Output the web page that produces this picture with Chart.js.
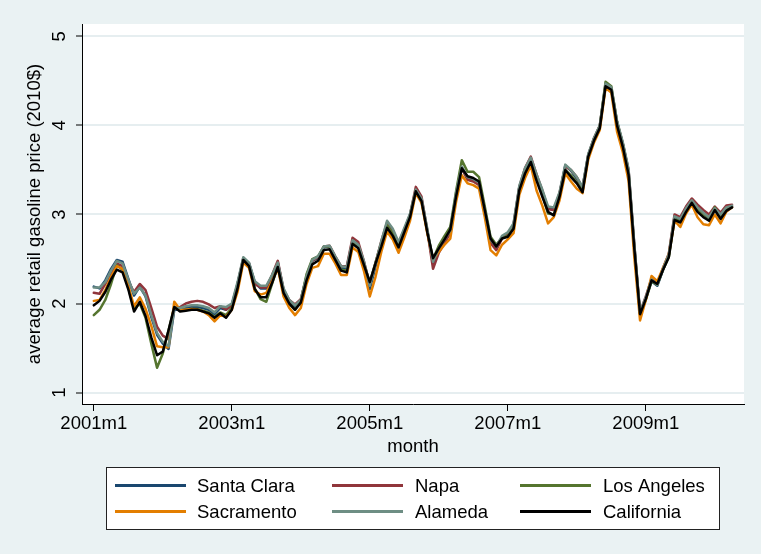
<!DOCTYPE html>
<html>
<head>
<meta charset="utf-8">
<script src="https://cdn.jsdelivr.net/npm/chart.js@4.4.1/dist/chart.umd.min.js"></script>
<style>
  html, body { margin: 0; padding: 0; background: #eaf2f3; }
  #wrap { width: 761px; height: 554px; position: relative; }
  canvas { display: block; }
</style>
</head>
<body>
<div id="wrap"><canvas id="chart" width="761" height="554"></canvas></div>
<script>
// Monthly categories, 2001m1 .. 2010m4
const months = [];
for (let i = 0; i < 112; i++) {
  months.push((2001 + Math.floor(i / 12)) + 'm' + (i % 12 + 1));
}
const xTickLabels = ['2001m1', '2003m1', '2005m1', '2007m1', '2009m1'];
const yTickValues = [1, 2, 3, 4, 5];

// Average retail gasoline price, 2010 dollars
const santaClara = [
  2.19, 2.17, 2.26, 2.39, 2.49, 2.47, 2.28, 2.09, 2.19, 2.08, 1.85, 1.65, 1.55, 1.49, 1.93,
  1.93, 1.95, 1.96, 1.96, 1.95, 1.93, 1.88, 1.95, 1.93,
  1.98, 2.22, 2.50, 2.45, 2.24, 2.17, 2.17, 2.30, 2.46, 2.15, 2.02, 1.96, 2.02, 2.29, 2.48, 2.51, 2.63, 2.64, 2.52, 2.40, 2.39, 2.70, 2.65, 2.45, 2.16,
  2.42, 2.67, 2.90, 2.82, 2.67, 2.83, 2.99, 3.27, 3.17, 2.82, 2.45,
  2.60, 2.70, 2.80, 3.22, 3.52, 3.40, 3.38, 3.34, 3.03, 2.70, 2.62, 2.74, 2.78,
  2.88, 3.30, 3.50, 3.62, 3.43, 3.26, 3.07, 3.06, 3.23, 3.55, 3.49, 3.40, 3.30,
  3.67, 3.85, 3.99, 4.45, 4.41, 4.03, 3.79, 3.49, 2.65, 1.89,
  2.06, 2.25, 2.20, 2.38, 2.54, 2.97, 2.94, 3.06, 3.16, 3.07, 3.01, 2.96, 3.07, 2.99, 3.07, 3.09
];
const napa = [
  2.12, 2.11, 2.22, 2.35, 2.45, 2.42, 2.25, 2.13, 2.22, 2.15, 1.95, 1.74, 1.64, 1.60, 1.95,
  1.96, 2.00, 2.02, 2.03, 2.02, 1.99, 1.95, 1.97, 1.93,
  1.98, 2.22, 2.51, 2.45, 2.22, 2.18, 2.18, 2.32, 2.48, 2.16, 2.04, 1.99, 2.05, 2.30, 2.48, 2.52, 2.64, 2.65, 2.53, 2.42, 2.42, 2.74, 2.69, 2.47, 2.22,
  2.46, 2.70, 2.91, 2.82, 2.68, 2.83, 3.00, 3.31, 3.20, 2.82, 2.39,
  2.57, 2.68, 2.79, 3.21, 3.52, 3.39, 3.37, 3.33, 3.02, 2.68, 2.60, 2.73, 2.78,
  2.89, 3.31, 3.52, 3.65, 3.45, 3.27, 3.06, 3.05, 3.24, 3.54, 3.50, 3.42, 3.30,
  3.67, 3.86, 4.00, 4.46, 4.42, 4.04, 3.80, 3.50, 2.66, 1.90,
  2.08, 2.28, 2.22, 2.40, 2.56, 3.00, 2.97, 3.09, 3.18, 3.11, 3.05, 3.00, 3.09, 3.02, 3.10, 3.11
];
const losAngeles = [
  1.87, 1.93, 2.04, 2.22, 2.43, 2.38, 2.18, 1.94, 2.00, 1.84, 1.55, 1.28, 1.44, 1.70, 1.96,
  1.92, 1.93, 1.94, 1.94, 1.92, 1.90, 1.85, 1.90, 1.87,
  1.95, 2.18, 2.50, 2.43, 2.17, 2.05, 2.02, 2.22, 2.42, 2.12, 2.00, 1.93, 2.03, 2.33, 2.50, 2.53, 2.64, 2.64, 2.50, 2.38, 2.37, 2.68, 2.64, 2.44, 2.24,
  2.46, 2.68, 2.88, 2.79, 2.64, 2.81, 2.99, 3.27, 3.15, 2.81, 2.50,
  2.65, 2.76, 2.86, 3.26, 3.61, 3.48, 3.48, 3.42, 3.09, 2.75, 2.66, 2.74, 2.76,
  2.85, 3.28, 3.46, 3.60, 3.40, 3.22, 3.01, 3.00, 3.20, 3.50, 3.44, 3.36, 3.27,
  3.66, 3.85, 3.99, 4.49, 4.44, 4.04, 3.79, 3.47, 2.62, 1.88,
  2.04, 2.25, 2.21, 2.38, 2.52, 2.95, 2.92, 3.05, 3.15, 3.06, 3.00, 2.96, 3.08, 2.98, 3.06, 3.08
];
const sacramento = [
  2.03, 2.04, 2.15, 2.30, 2.42, 2.39, 2.20, 1.97, 2.07, 1.94, 1.75, 1.52, 1.51, 1.51, 2.02,
  1.93, 1.93, 1.94, 1.93, 1.91, 1.87, 1.80, 1.87, 1.85,
  1.93, 2.13, 2.46, 2.40, 2.14, 2.10, 2.12, 2.25, 2.40, 2.08, 1.95, 1.87, 1.95, 2.22, 2.40, 2.42, 2.56, 2.56, 2.45, 2.32, 2.32, 2.63, 2.58, 2.36, 2.08,
  2.30, 2.58, 2.81, 2.72, 2.57, 2.74, 2.93, 3.24, 3.13, 2.79, 2.49,
  2.58, 2.66, 2.73, 3.14, 3.44, 3.35, 3.33, 3.29, 2.97, 2.60, 2.54, 2.66, 2.72,
  2.79, 3.22, 3.41, 3.55, 3.27, 3.10, 2.90, 2.97, 3.16, 3.46, 3.37, 3.29, 3.24,
  3.62, 3.81, 3.95, 4.42, 4.37, 3.93, 3.70, 3.38, 2.52, 1.81,
  2.04, 2.31, 2.25, 2.40, 2.55, 2.93, 2.86, 3.01, 3.11, 2.97, 2.89, 2.88, 3.00, 2.90, 3.03, 3.08
];
const alameda = [
  2.18, 2.18, 2.24, 2.37, 2.48, 2.45, 2.27, 2.11, 2.18, 2.09, 1.87, 1.67, 1.57, 1.52, 1.95,
  1.95, 1.97, 1.98, 1.98, 1.97, 1.95, 1.90, 1.97, 1.96,
  2.00, 2.24, 2.52, 2.46, 2.25, 2.20, 2.20, 2.32, 2.46, 2.17, 2.04, 1.98, 2.04, 2.31, 2.49, 2.53, 2.64, 2.65, 2.53, 2.42, 2.41, 2.71, 2.66, 2.47, 2.20,
  2.45, 2.70, 2.93, 2.84, 2.69, 2.85, 3.01, 3.28, 3.18, 2.84, 2.47,
  2.62, 2.72, 2.82, 3.24, 3.54, 3.42, 3.40, 3.36, 3.05, 2.72, 2.64, 2.76, 2.80,
  2.90, 3.32, 3.52, 3.64, 3.45, 3.28, 3.09, 3.08, 3.25, 3.56, 3.50, 3.42, 3.31,
  3.68, 3.86, 4.00, 4.47, 4.43, 4.05, 3.81, 3.51, 2.67, 1.90,
  2.07, 2.27, 2.21, 2.39, 2.55, 2.98, 2.95, 3.07, 3.16, 3.08, 3.02, 2.97, 3.07, 3.00, 3.08, 3.10
];
const california = [
  1.98, 2.03, 2.13, 2.27, 2.38, 2.35, 2.16, 1.91, 2.02, 1.86, 1.62, 1.42, 1.46, 1.70, 1.96,
  1.91, 1.92, 1.93, 1.93, 1.91, 1.89, 1.84, 1.89, 1.84,
  1.93, 2.17, 2.49, 2.42, 2.16, 2.07, 2.07, 2.23, 2.41, 2.12, 2.00, 1.93, 2.01, 2.26, 2.44, 2.48, 2.60, 2.61, 2.49, 2.37, 2.35, 2.67, 2.62, 2.43, 2.24,
  2.45, 2.64, 2.85, 2.76, 2.63, 2.80, 2.97, 3.26, 3.15, 2.80, 2.51,
  2.62, 2.72, 2.83, 3.20, 3.52, 3.43, 3.41, 3.37, 3.05, 2.73, 2.64, 2.73, 2.75,
  2.84, 3.27, 3.46, 3.59, 3.38, 3.20, 3.03, 2.99, 3.20, 3.50, 3.42, 3.35, 3.25,
  3.65, 3.83, 3.97, 4.44, 4.40, 4.00, 3.76, 3.45, 2.62, 1.88,
  2.05, 2.26, 2.22, 2.38, 2.52, 2.94, 2.91, 3.03, 3.13, 3.03, 2.97, 2.93, 3.05, 2.95, 3.04, 3.08
];

const FONT_FAMILY = "'Liberation Sans', Arial, Helvetica, sans-serif";
const FONT_SIZE = 18.5;

// Series in the order they are plotted; later ones sit on top
const series = [
  { label: 'Santa Clara', data: santaClara, color: '#1a476f' },
  { label: 'Napa',        data: napa,       color: '#90353b' },
  { label: 'Los Angeles', data: losAngeles, color: '#55752f' },
  { label: 'Sacramento',  data: sacramento, color: '#e37e00' },
  { label: 'Alameda',     data: alameda,    color: '#6e8e84' },
  { label: 'California',  data: california, color: '#000000' }
];

const datasets = series.map((s, i) => ({
  label: s.label,
  data: s.data.map((v, m) => ({ x: m, y: v })),
  borderColor: s.color,
  backgroundColor: s.color,
  borderWidth: 2.5,
  pointRadius: 0,
  tension: 0,
  fill: false,
  borderJoinStyle: 'round',
  borderCapStyle: 'round',
  order: series.length - 1 - i
}));

// Canvas backdrop: bluish-gray page with a white plot region
const backdrop = {
  id: 'backdrop',
  beforeDraw(chart) {
    const { ctx, chartArea: a } = chart;
    ctx.save();
    ctx.fillStyle = '#eaf2f3';
    ctx.fillRect(0, 0, chart.width, chart.height);
    ctx.fillStyle = '#ffffff';
    ctx.fillRect(a.left, a.top, a.right - a.left, a.bottom - a.top);
    ctx.restore();
  }
};

// Rotated y-axis tick labels
const yLabels = {
  id: 'yLabels',
  afterDraw(chart) {
    const { ctx } = chart;
    const y = chart.scales.y;
    ctx.save();
    ctx.font = FONT_SIZE + 'px ' + FONT_FAMILY;
    ctx.fillStyle = '#000';
    ctx.textAlign = 'center';
    ctx.textBaseline = 'middle';
    yTickValues.forEach(v => {
      ctx.save();
      ctx.translate(60, y.getPixelForValue(v));
      ctx.rotate(-Math.PI / 2);
      ctx.fillText(String(v), 0, 0);
      ctx.restore();
    });
    ctx.restore();
  }
};

// Boxed legend, three columns by two rows
const legendBox = {
  id: 'legendBox',
  afterDraw(chart) {
    const { ctx } = chart;
    const box = { x: 106, y: 467, w: 613, h: 62 };
    const cols = [
      { lineX: 115, textX: 197 },
      { lineX: 332, textX: 415 },
      { lineX: 520, textX: 603 }
    ];
    const rows = [485.5, 511.5];
    ctx.save();
    ctx.fillStyle = '#ffffff';
    ctx.fillRect(box.x, box.y, box.w, box.h);
    ctx.strokeStyle = '#222';
    ctx.lineWidth = 1;
    ctx.strokeRect(box.x + 0.5, box.y + 0.5, box.w, box.h);
    ctx.font = FONT_SIZE + 'px ' + FONT_FAMILY;
    ctx.textAlign = 'left';
    ctx.textBaseline = 'alphabetic';
    series.forEach((s, i) => {
      const c = cols[i % 3];
      const ry = rows[Math.floor(i / 3)];
      ctx.strokeStyle = s.color;
      ctx.lineWidth = 2.8;
      ctx.beginPath();
      ctx.moveTo(c.lineX, ry);
      ctx.lineTo(c.lineX + 71, ry);
      ctx.stroke();
      ctx.fillStyle = '#000';
      ctx.fillText(s.label, c.textX, ry + 6.5);
    });
    ctx.restore();
  }
};

new Chart(document.getElementById('chart'), {
  type: 'line',
  data: { datasets },
  options: {
    responsive: false,
    animation: false,
    devicePixelRatio: 1,
    layout: { padding: { left: 0, top: 24, right: 17, bottom: 90 } },
    plugins: { legend: { display: false }, tooltip: { enabled: false } },
    scales: {
      x: {
        type: 'linear',
        min: -2.05,
        max: 113.08,
        afterBuildTicks: s => { s.ticks = xTickLabels.map(l => ({ value: months.indexOf(l) })); },
        afterFit: s => { s.height = 60; },
        ticks: {
          callback: v => months[v],
          color: '#000',
          font: { family: FONT_FAMILY, size: FONT_SIZE },
          padding: 2,
          maxRotation: 0,
          autoSkip: false
        },
        grid: { drawOnChartArea: false, drawTicks: true, tickLength: 7, tickColor: '#000', tickWidth: 1 },
        border: { display: true, color: '#000', width: 1 },
        title: {
          display: true,
          text: 'month',
          color: '#000',
          font: { family: FONT_FAMILY, size: FONT_SIZE },
          padding: { top: 0, bottom: 6 }
        }
      },
      y: {
        type: 'linear',
        min: 0.872,
        max: 5.139,
        afterBuildTicks: s => { s.ticks = yTickValues.map(v => ({ value: v })); },
        afterFit: s => { s.width = 82; },
        ticks: { display: false },
        grid: { color: '#e6eef0', lineWidth: 2, drawTicks: true, tickLength: 6, tickColor: '#000', tickWidth: 1 },
        border: { display: true, color: '#000', width: 1 },
        title: {
          display: true,
          text: 'average retail gasoline price (2010$)',
          color: '#000',
          font: { family: FONT_FAMILY, size: FONT_SIZE },
          padding: { top: 24, bottom: 0 }
        }
      }
    }
  },
  plugins: [backdrop, yLabels, legendBox]
});
</script>
</body>
</html>
